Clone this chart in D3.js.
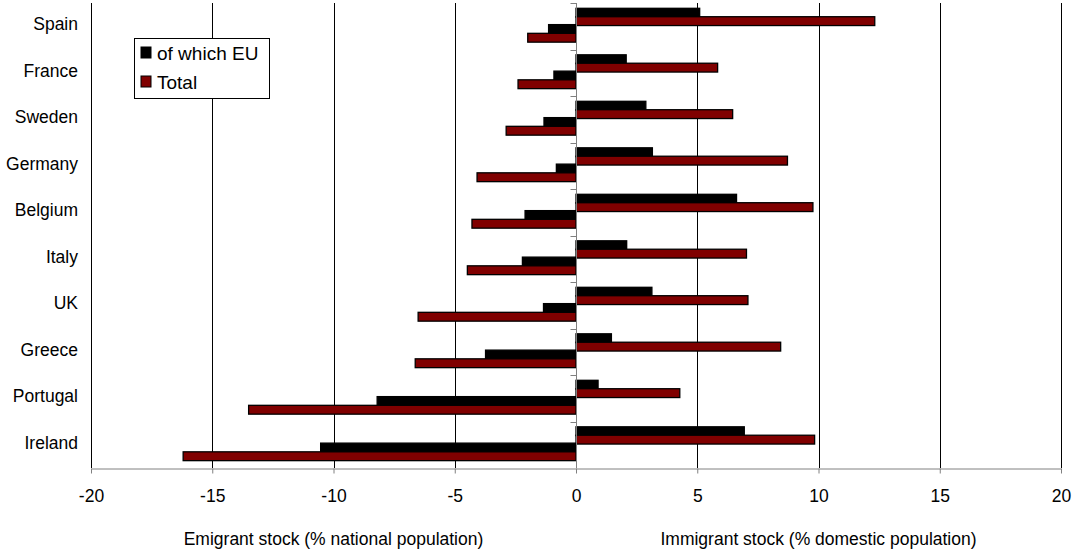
<!DOCTYPE html>
<html><head><meta charset="utf-8">
<script src="https://cdn.jsdelivr.net/npm/d3@7"></script>
<style>body{margin:0;background:#fff}svg{display:block;font-family:"Liberation Sans",Arial,sans-serif}</style>
</head><body><svg id="c" width="1073" height="551"></svg>
<script>
const categories = ["Spain","France","Sweden","Germany","Belgium","Italy","UK","Greece","Portugal","Ireland"];
const immigrantEU    = [5.10, 2.07, 2.88, 3.15, 6.62, 2.09, 3.13, 1.46, 0.91, 6.94];
const immigrantTotal = [12.32, 5.84, 6.46, 8.72, 9.77, 7.03, 7.09, 8.44, 4.28, 9.84];
const emigrantEU     = [-1.13, -0.91, -1.32, -0.81, -2.10, -2.21, -1.34, -3.73, -8.20, -10.53];
const emigrantTotal  = [-1.99, -2.39, -2.88, -4.08, -4.29, -4.48, -6.51, -6.63, -13.50, -16.20];
const xTicks = [-20,-15,-10,-5,0,5,10,15,20];
const seriesNames = ["of which EU","Total"];
const axisTitles = ["Emigrant stock (% national population)","Immigrant stock (% domestic population)"];

const svg = d3.select("#c");
const L = 91, R = 1061, T = 3, B = 468;
const x = d3.scaleLinear().domain([-20,20]).range([L,R]);
const y = d3.scaleBand().domain(categories).range([T,B]).padding(0);
const bw = y.bandwidth();
const EU = "#000000", TOT = "#800000";
const FS = 17.5;

// gridlines
svg.append("g").selectAll("line").data(xTicks.filter(d=>d!==0)).join("line")
  .attr("x1",d=>Math.round(x(d))+0.5).attr("x2",d=>Math.round(x(d))+0.5)
  .attr("y1",T).attr("y2",B).attr("stroke","#000").attr("stroke-width",1);

// bars
const layers = [
  {vals: immigrantEU, off: 0.114, fill: EU},
  {vals: immigrantTotal, off: 0.295, fill: TOT},
  {vals: emigrantEU, off: 0.465, fill: EU},
  {vals: emigrantTotal, off: 0.652, fill: TOT}
];
const bh = 0.19*bw;
layers.forEach(l=>{
  svg.append("g").selectAll("rect").data(categories).join("rect")
    .attr("x",(c,i)=>x(Math.min(0,l.vals[i])))
    .attr("width",(c,i)=>Math.abs(x(l.vals[i])-x(0)))
    .attr("y",c=>y(c)+l.off*bw)
    .attr("height",bh)
    .attr("fill",l.fill)
    .attr("stroke","#000").attr("stroke-width",1.3);
});

// category axis at zero
const z = Math.round(x(0))+0.5;
svg.append("line").attr("x1",z).attr("x2",z).attr("y1",T).attr("y2",B).attr("stroke","#808080");
svg.append("g").selectAll("line").data(categories).join("line")
  .attr("x1",z-6).attr("x2",z).attr("y1",c=>Math.round(y(c))+0.5).attr("y2",c=>Math.round(y(c))+0.5)
  .attr("stroke","#808080");
svg.append("g").selectAll("text").data(categories).join("text")
  .attr("x",78).attr("y",c=>y(c)+bw/2-2).attr("text-anchor","end").attr("dominant-baseline","central")
  .attr("font-size",FS).attr("fill","#000").text(c=>c);

// x axis
const xa = svg.append("g").attr("transform",`translate(0,${B+0.5})`)
  .call(d3.axisBottom(x).tickValues(xTicks).tickSize(5).tickSizeOuter(0).tickFormat(d=>String(d)));
xa.select(".domain").attr("stroke","#808080");
xa.selectAll(".tick line").attr("stroke","#808080");
xa.selectAll(".tick text").attr("y",27).attr("dy",null).attr("dominant-baseline","central")
  .attr("font-size",FS).attr("font-family","Liberation Sans, Arial, sans-serif").attr("fill","#000");

svg.append("text").attr("x",x(-10)).attr("y",539).attr("text-anchor","middle").attr("dominant-baseline","central").attr("font-size",FS).text(axisTitles[0]);
svg.append("text").attr("x",x(10)).attr("y",539).attr("text-anchor","middle").attr("dominant-baseline","central").attr("font-size",FS).text(axisTitles[1]);

// legend
const lg = svg.append("g");
lg.append("rect").attr("x",134.5).attr("y",38.5).attr("width",135).attr("height",60).attr("fill","#fff").attr("stroke","#000");
const lc = [EU, TOT];
seriesNames.forEach((n,i)=>{
  lg.append("rect").attr("x",141).attr("y",47+i*29).attr("width",10).attr("height",11).attr("fill",lc[i]).attr("stroke","#000");
  lg.append("text").attr("x",157).attr("y",53+i*29).attr("dominant-baseline","central").attr("font-size",19).text(n);
});
</script></body></html>
